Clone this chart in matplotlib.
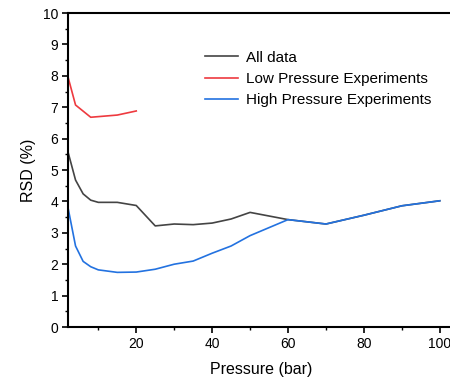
import matplotlib
matplotlib.use("Agg")
import matplotlib.pyplot as plt
from matplotlib.ticker import MultipleLocator

plt.rcParams['font.family'] = ['Liberation Sans', 'DejaVu Sans']

# RSD versus pressure
all_x = [2, 4, 6, 8, 10, 15, 20, 25, 30, 35, 40, 45, 50, 60, 70, 80, 90, 100]
all_y = [5.58, 4.68, 4.24, 4.04, 3.97, 3.97, 3.87, 3.22, 3.28, 3.26, 3.31, 3.44, 3.65,
         3.42, 3.28, 3.56, 3.86, 4.02]

low_x = [2, 4, 8, 15, 20]
low_y = [7.97, 7.07, 6.68, 6.75, 6.88]

high_x = [2, 4, 6, 8, 10, 15, 20, 25, 30, 35, 40, 45, 50, 60, 70, 80, 90, 100]
high_y = [3.81, 2.58, 2.09, 1.92, 1.82, 1.74, 1.75, 1.84, 2.0, 2.1, 2.35, 2.58, 2.91,
          3.42, 3.28, 3.56, 3.86, 4.02]

series_labels = ["All data", "Low Pressure Experiments", "High Pressure Experiments"]
series_colors = ["#444444", "#ee3a3f", "#2372e0"]

fig = plt.figure(figsize=(4.5, 3.77), dpi=100)
ax = fig.add_axes([0.151, 0.1326, 0.86, 0.8329])

ax.plot(all_x, all_y, color=series_colors[0], lw=1.2, label=series_labels[0])
ax.plot(low_x, low_y, color=series_colors[1], lw=1.2, label=series_labels[1])
ax.plot(high_x, high_y, color=series_colors[2], lw=1.2, label=series_labels[2])

ax.set_xlim(2, 104)
ax.set_ylim(0, 10)
ax.xaxis.set_major_locator(MultipleLocator(20))
ax.xaxis.set_minor_locator(MultipleLocator(10))
ax.yaxis.set_major_locator(MultipleLocator(1))
ax.yaxis.set_minor_locator(MultipleLocator(0.5))

for side in ["left", "bottom", "top"]:
    ax.spines[side].set_linewidth(1.5)
ax.spines["right"].set_visible(False)

ax.tick_params(which="major", direction="out", length=4.5, width=1.2, labelsize=10,
               pad=2.5, colors="black")
ax.tick_params(which="minor", direction="out", length=2.5, width=1.0)

ax.set_xlabel("Pressure (bar)", fontsize=11.5, labelpad=8)
ax.set_ylabel("RSD (%)", fontsize=11.5, labelpad=5)

ax.legend(loc="upper left", bbox_to_anchor=(0.338, 0.90), frameon=False, fontsize=11,
          handlelength=2.2, handletextpad=0.5, labelspacing=0.49, borderaxespad=0)

fig.savefig("out.png", dpi=100)
